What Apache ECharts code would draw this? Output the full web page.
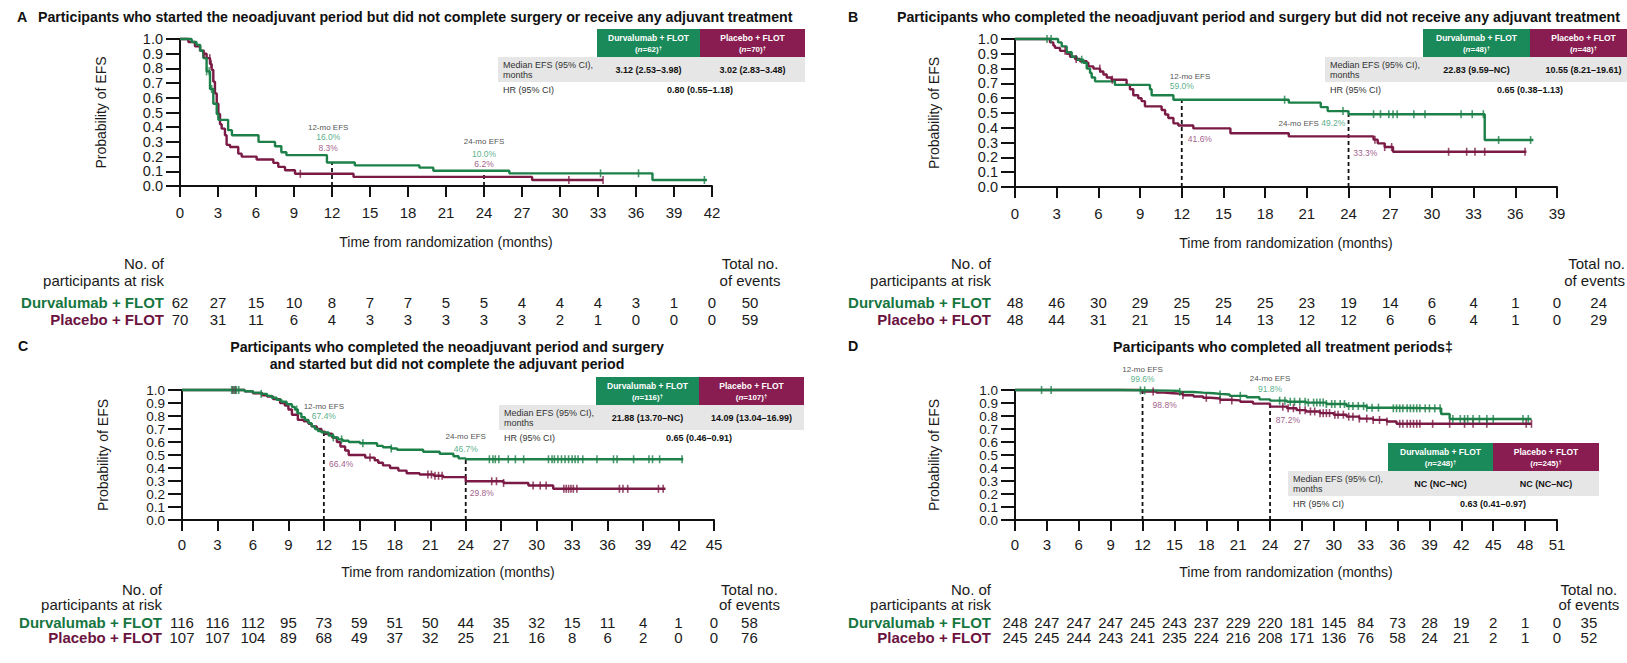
<!DOCTYPE html>
<html><head><meta charset="utf-8">
<script src="https://cdn.jsdelivr.net/npm/echarts@6/dist/echarts.min.js"></script>
<style>html,body{margin:0;padding:0;background:#fff}#c{width:1627px;height:663px}</style>
</head><body><div id="c"></div>
<script>
// ================= DATA =================
const xTickStep = 3;
const yTickLabels = ['0.0','0.1','0.2','0.3','0.4','0.5','0.6','0.7','0.8','0.9','1.0'];
const armNames = ['Durvalumab + FLOT', 'Placebo + FLOT'];

// ---- Panel A ----
const aTitle = 'Participants who started the neoadjuvant period but did not complete surgery or receive any adjuvant treatment';
const aXMax = 42;
const aDurvaKM = [[0,1],[0.92,0.98],[1.3,0.96],[1.6,0.92],[1.84,0.87],[2.1,0.78],[2.37,0.66],[2.63,0.56],[2.9,0.49],[3.03,0.45],[3.8,0.38],[4.1,0.345],[6.2,0.30],[7.5,0.27],[8.0,0.23],[8.4,0.21],[11.6,0.16],[13.8,0.14],[18.9,0.125],[20.0,0.104],[26.0,0.086],[37.3,0.041],[41.6,0.041]];
const aDurvaCens = [2.1,2.3,2.5,33.2,36.2,41.4];
const aPlacKM = [[0,1],[0.66,0.98],[1.18,0.95],[1.58,0.92],[1.84,0.9],[2.1,0.87],[2.37,0.83],[2.5,0.79],[2.63,0.71],[2.76,0.63],[2.9,0.56],[3.03,0.49],[3.16,0.42],[3.29,0.39],[3.55,0.345],[3.68,0.28],[3.95,0.265],[4.6,0.22],[4.87,0.2],[6.05,0.18],[7.37,0.157],[7.76,0.13],[8.29,0.107],[9.08,0.083],[13.7,0.062],[27.8,0.041],[33.4,0.041]];
const aPlacCens = [1.9,2.35,2.45,9.5,30.7,33.4];
const aDurvaRisk = [62,27,15,10,8,7,7,5,5,4,4,4,3,1,0];
const aPlacRisk  = [70,31,11,6,4,3,3,3,3,3,2,1,0,0,0];
const aTotals = [50,59];
const aN = [62,70];
const aMedian = ['3.12 (2.53–3.98)','3.02 (2.83–3.48)'];
const aHR = '0.80 (0.55–1.18)';
const aEFS12 = ['16.0%','8.3%'];
const aEFS24 = ['10.0%','6.2%'];
const aLand = [0.16, 0.10];

// ---- Panel B ----
const bTitle = 'Participants who completed the neoadjuvant period and surgery but did not receive any adjuvant treatment';
const bXMax = 39;
const bDurvaKM = [[0,1],[3.1,0.977],[3.36,0.95],[3.72,0.91],[4.08,0.88],[4.44,0.86],[4.92,0.84],[5.16,0.80],[5.4,0.77],[5.52,0.74],[5.76,0.714],[7.19,0.69],[9.71,0.66],[9.83,0.62],[11.4,0.59],[19.7,0.57],[22.0,0.54],[22.5,0.513],[24.0,0.492],[33.8,0.318],[37.3,0.318]];
const bDurvaCens = [2.3,2.6,4.8,19.4,23.6,25.8,26.3,26.9,27.2,27.5,28.7,29.5,32.1,32.9,33.7,34.8,37.1];
const bPlacKM = [[0,1],[2.52,0.977],[2.76,0.955],[2.88,0.94],[3.24,0.92],[3.72,0.9],[3.96,0.88],[4.32,0.865],[4.68,0.85],[5.16,0.84],[5.28,0.815],[5.64,0.80],[6.12,0.78],[6.36,0.76],[6.6,0.74],[6.95,0.725],[8.03,0.69],[8.27,0.66],[8.51,0.62],[8.87,0.6],[9.11,0.58],[9.35,0.545],[10.55,0.52],[10.8,0.49],[11.03,0.466],[11.4,0.43],[11.75,0.416],[12.83,0.396],[15.5,0.363],[19.7,0.342],[25.8,0.32],[26.1,0.295],[26.6,0.27],[27.2,0.238],[36.8,0.238]];
const bPlacCens = [3.6,4.4,6.1,7.0,25.9,26.6,27.1,31.2,32.5,33.1,33.8,36.7];
const bDurvaRisk = [48,46,30,29,25,25,25,23,19,14,6,4,1,0];
const bPlacRisk  = [48,44,31,21,15,14,13,12,12,6,6,4,1,0];
const bTotals = [24,29];
const bN = [48,48];
const bMedian = ['22.83 (9.59–NC)','10.55 (8.21–19.61)'];
const bHR = '0.65 (0.38–1.13)';
const bEFS12 = ['59.0%','41.6%'];
const bEFS24 = ['49.2%','33.3%'];
const bLand = [0.59, 0.492];

// ---- Panel C ----
const cTitle = 'Participants who completed the neoadjuvant period and surgery\nand started but did not complete the adjuvant period';
const cXMax = 45;
const cDurvaKM = [[0,1],[5.3,0.99],[6.0,0.98],[6.7,0.97],[7.2,0.955],[7.6,0.94],[8.0,0.925],[8.4,0.91],[8.85,0.89],[9.3,0.87],[9.55,0.85],[9.8,0.82],[10.1,0.79],[10.4,0.77],[10.7,0.745],[10.97,0.72],[11.25,0.70],[11.5,0.685],[11.8,0.674],[12.4,0.65],[12.8,0.635],[13.2,0.62],[13.6,0.61],[14.1,0.6],[15.05,0.59],[16.5,0.57],[17.0,0.56],[17.7,0.55],[18.2,0.54],[20.4,0.525],[21.8,0.51],[22.96,0.49],[23.4,0.474],[24.0,0.467],[42.4,0.467]];
const cDurvaCens = [4.2,4.4,4.6,4.8,6.7,9.7,12.8,13.5,15.3,17.7,26.0,26.3,26.5,26.8,27.6,28.2,28.9,31.0,31.3,31.5,31.8,32.1,32.4,32.7,33.0,33.25,33.5,33.9,35.1,36.5,36.8,38.2,39.5,39.8,40.4,42.3];
const cPlacKM = [[0,1],[5.3,0.99],[6.0,0.975],[6.8,0.96],[7.2,0.95],[7.7,0.93],[8.3,0.90],[8.7,0.88],[9.0,0.85],[9.3,0.81],[9.8,0.77],[10.3,0.76],[10.7,0.74],[10.97,0.72],[11.4,0.70],[11.8,0.68],[12.1,0.664],[12.7,0.635],[13.1,0.60],[13.4,0.565],[13.8,0.535],[14.1,0.50],[15.5,0.48],[16.3,0.46],[16.6,0.44],[17.0,0.42],[17.6,0.40],[18.3,0.38],[19.0,0.36],[20.1,0.35],[21.3,0.34],[22.1,0.33],[24.0,0.298],[27.2,0.285],[29.3,0.265],[31.4,0.24],[40.9,0.24]];
const cPlacCens = [4.3,4.5,15.9,20.8,21.1,21.4,21.7,22.0,26.2,26.6,27.2,29.7,30.3,30.8,32.3,32.5,32.7,32.9,33.1,33.4,37.0,37.3,37.7,40.3,40.7];
const cDurvaRisk = [116,116,112,95,73,59,51,50,44,35,32,15,11,4,1,0];
const cPlacRisk  = [107,107,104,89,68,49,37,32,25,21,16,8,6,2,0,0];
const cTotals = [58,76];
const cN = [116,107];
const cMedian = ['21.88 (13.70–NC)','14.09 (13.04–16.99)'];
const cHR = '0.65 (0.46–0.91)';
const cEFS12 = ['67.4%','66.4%'];
const cEFS24 = ['46.7%','29.8%'];
const cLand = [0.674, 0.467];

// ---- Panel D ----
const dTitle = 'Participants who completed all treatment periods‡';
const dXMax = 51;
const dDurvaKM = [[0,1],[9.9,0.997],[13.0,0.995],[14.6,0.992],[15.5,0.985],[16.8,0.98],[17.7,0.975],[18.7,0.97],[19.3,0.965],[20.2,0.955],[21.8,0.944],[23.0,0.928],[24.0,0.918],[25.6,0.91],[27.4,0.903],[29.3,0.892],[31.2,0.877],[33.1,0.864],[35.6,0.859],[40.1,0.815],[40.9,0.777],[48.6,0.777]];
const dDurvaCens = [2.5,3.4,11.8,12.2,15.5,19.3,21.2,24.9,25.4,25.9,26.3,26.8,27.3,27.6,28.1,28.4,28.7,29.0,29.3,29.8,30.1,30.6,31.0,31.4,31.8,32.3,32.8,33.1,33.6,34.2,35.6,35.9,36.2,36.5,36.9,37.2,37.5,37.8,38.1,38.6,39.0,39.5,40.0,41.2,41.9,42.3,42.6,43.1,43.7,44.4,45.0,47.8,48.3];
const dPlacKM = [[0,1],[11.9,0.988],[13.3,0.98],[14.0,0.975],[14.9,0.97],[15.8,0.96],[16.8,0.95],[17.7,0.94],[18.4,0.935],[19.3,0.925],[20.2,0.92],[21.2,0.91],[22.4,0.895],[24.0,0.872],[25.6,0.86],[26.5,0.845],[27.4,0.835],[28.7,0.822],[30.0,0.81],[31.2,0.795],[32.4,0.78],[33.7,0.77],[35.0,0.758],[35.9,0.74],[48.6,0.74]];
const dPlacCens = [13.0,15.8,18.0,19.3,20.4,25.2,25.7,26.2,26.8,27.3,27.8,28.2,28.7,29.0,29.3,29.6,30.1,30.4,30.9,31.4,31.8,32.4,33.1,33.7,34.3,35.0,36.2,36.5,36.9,37.2,37.5,37.8,38.1,39.3,40.9,42.3,43.1,44.4,48.1,48.6];
const dDurvaRisk = [248,247,247,247,245,243,237,229,220,181,145,84,73,28,19,2,1,0];
const dPlacRisk  = [245,245,244,243,241,235,224,216,208,171,136,76,58,24,21,2,1,0];
const dTotals = [35,52];
const dN = [248,245];
const dMedian = ['NC (NC–NC)','NC (NC–NC)'];
const dHR = '0.63 (0.41–0.97)';
const dEFS12 = ['99.6%','98.8%'];
const dEFS24 = ['91.8%','87.2%'];
const dLand = [1.0, 0.918];

// ================= STYLE / LAYOUT =================
const GREEN = '#1d8049', PURPLE = '#7a1a45';
const HGREEN = '#1a8a5a', HPURPLE = '#891c50';
const TGREEN = '#17763f', TPURPLE = '#6b1340';
const PGREEN = '#2c9a6c', PPURPLE = '#87306a';
const INK = '#1a1a1a';
const FONT = "'Liberation Sans', Arial, Helvetica, sans-serif";
const TFS = 15;      // table / axis text size
const TITLE_FS = 14.2;

const panels = [
  { letter:'A', title:aTitle, xMax:aXMax, dKM:aDurvaKM, dC:aDurvaCens, pKM:aPlacKM, pC:aPlacCens, dR:aDurvaRisk, pR:aPlacRisk, tot:aTotals, n:aN, med:aMedian, hr:aHR, e12:aEFS12, e24:aEFS24, land:aLand,
    L:{left:180, top:39, width:532, height:147, tableTop:302, tableH:17, hdrNo:263, hdrStep:17, labMargin:19, nameGap:49, yNameGap:72, labelRight:164,
       letterX:17, letterY:17, titleX:38, titleAlign:'left', titleY:17,
       leg:{grayLeft:498, g0:597, g1:700, p1:805, top:29},
       ann12:[{x:11.7,y:0.40,t:'12-mo EFS',c:INK},{x:11.7,y:0.333,t:0,c:PGREEN},{x:11.7,y:0.259,t:1,c:PPURPLE}],
       ann24:[{x:24,y:0.30,t:'24-mo EFS',c:INK},{x:24,y:0.218,t:0,c:PGREEN},{x:24,y:0.15,t:1,c:PPURPLE}] } },
  { letter:'B', title:bTitle, xMax:bXMax, dKM:bDurvaKM, dC:bDurvaCens, pKM:bPlacKM, pC:bPlacCens, dR:bDurvaRisk, pR:bPlacRisk, tot:bTotals, n:bN, med:bMedian, hr:bHR, e12:bEFS12, e24:bEFS24, land:bLand,
    L:{left:1015, top:39, width:542, height:148, tableTop:302, tableH:17, hdrNo:263, hdrStep:17, labMargin:19, nameGap:49, yNameGap:74, labelRight:991,
       letterX:848, letterY:17, titleX:897, titleAlign:'left', titleY:17,
       leg:{grayLeft:1325, g0:1423, g1:1530, p1:1637, top:29},
       ann12:[{x:12.6,y:0.75,t:'12-mo EFS',c:INK},{x:12.0,y:0.68,t:0,c:PGREEN},{x:12.4,y:0.324,t:1,c:PPURPLE,a:'left'}],
       ann24:[{x:23.8,y:0.43,t:'24-mo EFS {g|@}',c:INK,a:'right'},{x:24.3,y:0.23,t:1,c:PPURPLE,a:'left'}] } },
  { letter:'C', title:cTitle, xMax:cXMax, dKM:cDurvaKM, dC:cDurvaCens, pKM:cPlacKM, pC:cPlacCens, dR:cDurvaRisk, pR:cPlacRisk, tot:cTotals, n:cN, med:cMedian, hr:cHR, e12:cEFS12, e24:cEFS24, land:cLand,
    L:{left:182, top:390, width:532, height:130, tableTop:622, tableH:15, hdrNo:589, hdrStep:15, labMargin:17, nameGap:45, yNameGap:72, labelRight:162,
       letterX:18, letterY:346, titleX:447, titleAlign:'center', titleY:346,
       leg:{grayLeft:499, g0:596, g1:699, p1:804, top:377},
       ann12:[{x:12,y:0.87,t:'12-mo EFS',c:INK},{x:12,y:0.80,t:0,c:PGREEN},{x:12.4,y:0.43,t:1,c:PPURPLE,a:'left'}],
       ann24:[{x:24,y:0.64,t:'24-mo EFS',c:INK},{x:24,y:0.55,t:0,c:PGREEN},{x:24.3,y:0.21,t:1,c:PPURPLE,a:'left'}] } },
  { letter:'D', title:dTitle, xMax:dXMax, dKM:dDurvaKM, dC:dDurvaCens, pKM:dPlacKM, pC:dPlacCens, dR:dDurvaRisk, pR:dPlacRisk, tot:dTotals, n:dN, med:dMedian, hr:dHR, e12:dEFS12, e24:dEFS24, land:dLand,
    L:{left:1015, top:390, width:542, height:130, tableTop:622, tableH:15, hdrNo:589, hdrStep:15, labMargin:17, nameGap:45, yNameGap:74, labelRight:991,
       letterX:848, letterY:346, titleX:1283, titleAlign:'center', titleY:346,
       leg:{grayLeft:1288, g0:1388, g1:1493, p1:1599, top:443},
       ann12:[{x:12,y:1.16,t:'12-mo EFS',c:INK},{x:12,y:1.085,t:0,c:PGREEN},{x:12.9,y:0.885,t:1,c:PPURPLE,a:'left'}],
       ann24:[{x:24,y:1.09,t:'24-mo EFS',c:INK},{x:24,y:1.01,t:0,c:PGREEN},{x:24.5,y:0.77,t:1,c:PPURPLE,a:'left'}] } }
];

function survAt(km, t){ let s = km[0][1]; for (const p of km){ if (p[0] <= t) s = p[1]; else break; } return s; }

const grid = [], xAxis = [], yAxis = [], series = [], graphic = [];
const W = 1627;

panels.forEach((P, k) => {
  const L = P.L;
  const nInt = P.xMax / xTickStep;
  const tableW = L.width * (nInt + 1) / nInt;
  const gi = grid.length;
  grid.push({left:L.left, top:L.top, width:L.width, height:L.height, outerBoundsMode:'none', containLabel:false});
  const ti = grid.length;
  grid.push({left:L.left, top:L.tableTop, width:tableW, height:L.tableH, outerBoundsMode:'none', containLabel:false});
  const yFs = (L.height / 10) > 14 ? 14.5 : 13.5;

  const xMainIdx = xAxis.length;
  xAxis.push({gridIndex:gi, type:'value', min:0, max:P.xMax, interval:xTickStep,
    axisLine:{show:true, onZero:false, lineStyle:{color:'#111', width:2}},
    axisTick:{show:true, length:11, lineStyle:{color:'#111', width:2}},
    axisLabel:{fontFamily:FONT, fontSize:TFS, color:INK, margin:L.labMargin, showMinLabel:true, showMaxLabel:true, hideOverlap:false},
    splitLine:{show:false},
    name:'Time from randomization (months)', nameLocation:'middle', nameGap:L.nameGap,
    nameTextStyle:{fontFamily:FONT, fontSize:14, color:INK}});

  // main y axis: line, ticks, even tick labels
  const yMainIdx = yAxis.length;
  yAxis.push({gridIndex:gi, type:'value', min:0, max:1, interval:0.1,
    axisLine:{show:true, onZero:false, lineStyle:{color:'#111', width:2}},
    axisTick:{show:true, length:14, lineStyle:{color:'#111', width:2}},
    axisLabel:{fontFamily:FONT, fontSize:yFs, color:INK, margin:17, showMinLabel:true, showMaxLabel:true, hideOverlap:false,
      formatter:(v) => { const i = Math.round(v*10); return i % 2 === 0 ? yTickLabels[i] : ''; }},
    splitLine:{show:false},
    name:'Probability of EFS', nameLocation:'middle', nameGap:L.yNameGap, nameRotate:90,
    nameTextStyle:{fontFamily:FONT, fontSize:14, color:INK}});
  // companion y axis carrying the odd tick labels (same scale)
  yAxis.push({gridIndex:gi, type:'value', position:'left', offset:0, min:0, max:1, interval:0.1,
    axisLine:{show:false}, axisTick:{show:false}, splitLine:{show:false},
    axisLabel:{fontFamily:FONT, fontSize:yFs, color:INK, margin:17, showMinLabel:true, showMaxLabel:true, hideOverlap:false,
      formatter:(v) => { const i = Math.round(v*10); return i % 2 === 1 ? yTickLabels[i] : ''; }}});

  const riskAxis = (arr, tot, pos) => ({gridIndex:ti, type:'value', position:pos, min:0, max:P.xMax + xTickStep, interval:xTickStep,
    axisLine:{show:false}, axisTick:{show:false}, splitLine:{show:false},
    axisLabel:{fontFamily:FONT, fontSize:TFS, color:INK, margin:0, verticalAlign:'middle', showMinLabel:true, showMaxLabel:true, hideOverlap:false,
      formatter:(v) => { const i = Math.round(v / xTickStep); return i < arr.length ? String(arr[i]) : String(tot); }}});
  xAxis.push(riskAxis(P.dR, P.tot[0], 'top'));
  xAxis.push(riskAxis(P.pR, P.tot[1], 'bottom'));
  yAxis.push({gridIndex:ti, type:'value', show:false, min:0, max:1});

  [[P.pKM, P.pC, PURPLE], [P.dKM, P.dC, GREEN]].forEach(([km, cens, col]) => {
    series.push({type:'line', xAxisIndex:xMainIdx, yAxisIndex:yMainIdx, data:km, step:'end', showSymbol:false, symbol:'none',
      lineStyle:{color:col, width:2.4}, itemStyle:{color:col}, z:3, silent:true, clip:false});
    series.push({type:'scatter', xAxisIndex:xMainIdx, yAxisIndex:yMainIdx, data:cens.map(t => [t, survAt(km, t)]),
      symbol:'rect', symbolSize:[1.6, 8], itemStyle:{color:col}, z:4, silent:true, clip:false});
  });
  [[12, P.land[0]], [24, P.land[1]]].forEach(([m, v]) => {
    series.push({type:'line', xAxisIndex:xMainIdx, yAxisIndex:yMainIdx, data:[[m,0],[m,v]], showSymbol:false, symbol:'none',
      lineStyle:{color:'#111', width:1.8, type:[4,3]}, z:2, silent:true, clip:false});
  });
  const annItems = [];
  const pushAnn = (list, vals) => list.forEach(a => {
    const text = typeof a.t === 'number' ? vals[a.t] : a.t.replace('@', vals[0]);
    const pos = a.a === 'left' ? 'right' : (a.a === 'right' ? 'left' : 'inside');
    annItems.push({value:[a.x, a.y], label:{show:true, position:pos, distance:0, formatter:text, color:a.c,
      fontFamily:FONT, fontSize: a.c === INK ? 8 : 8.5,
      rich:{g:{color:PGREEN, fontFamily:FONT, fontSize:8.5}}}});
  });
  pushAnn(L.ann12, P.e12);
  pushAnn(L.ann24, P.e24);
  series.push({type:'scatter', xAxisIndex:xMainIdx, yAxisIndex:yMainIdx, data:annItems, symbolSize:1,
    itemStyle:{color:'rgba(0,0,0,0)'}, z:6, silent:true, clip:false});

  // ---- titles ----
  graphic.push({type:'text', x:L.letterX, y:L.letterY, style:{text:P.letter, font:`bold ${TITLE_FS}px ${FONT}`, fill:'#111', textAlign:'left', textVerticalAlign:'middle'}});
  if (L.titleAlign === 'left') {
    graphic.push({type:'text', x:L.titleX, y:L.titleY, style:{text:P.title, font:`bold ${TITLE_FS}px ${FONT}`, fill:'#111', textAlign:'left', textVerticalAlign:'middle'}});
  } else {
    graphic.push({type:'text', x:L.titleX, y:L.titleY - 8, style:{text:P.title, font:`bold ${TITLE_FS}px ${FONT}`, fill:'#111', textAlign:'center', textVerticalAlign:'top', lineHeight:17}});
  }
  // ---- at-risk table labels ----
  const rr = L.labelRight;
  graphic.push({type:'text', x:rr, y:L.hdrNo, style:{text:'No. of', font:`${TFS}px ${FONT}`, fill:INK, textAlign:'right', textVerticalAlign:'middle'}});
  graphic.push({type:'text', x:rr, y:L.hdrNo + L.hdrStep, style:{text:'participants at risk', font:`${TFS}px ${FONT}`, fill:INK, textAlign:'right', textVerticalAlign:'middle'}});
  graphic.push({type:'text', x:rr, y:L.tableTop, style:{text:armNames[0], font:`bold ${TFS}px ${FONT}`, fill:TGREEN, textAlign:'right', textVerticalAlign:'middle'}});
  graphic.push({type:'text', x:rr, y:L.tableTop + L.tableH, style:{text:armNames[1], font:`bold ${TFS}px ${FONT}`, fill:TPURPLE, textAlign:'right', textVerticalAlign:'middle'}});
  const totX = L.left + tableW;
  const totFits = totX + 34 < W;
  [['Total no.', 0], ['of events', L.hdrStep]].forEach(([t, dy]) => {
    graphic.push({type:'text', x: totFits ? totX : W - 2, y:L.hdrNo + dy,
      style:{text:t, font:`${TFS}px ${FONT}`, fill:INK, textAlign: totFits ? 'center' : 'right', textVerticalAlign:'middle'}});
  });

  // ---- legend table ----
  const G = L.leg, hH = 28, gH = 25;
  graphic.push({type:'rect', shape:{x:G.grayLeft, y:G.top + hH, width:G.p1 - G.grayLeft, height:gH}, style:{fill:'#e6e6e6'}});
  graphic.push({type:'rect', shape:{x:G.g0, y:G.top, width:G.g1 - G.g0, height:hH}, style:{fill:HGREEN}});
  graphic.push({type:'rect', shape:{x:G.g1, y:G.top, width:G.p1 - G.g1, height:hH}, style:{fill:HPURPLE}});
  const cG = (G.g0 + G.g1)/2, cP = (G.g1 + G.p1)/2;
  [[cG, 0], [cP, 1]].forEach(([cx, i]) => {
    graphic.push({type:'text', x:cx, y:G.top + 9, style:{text:armNames[i], font:`bold 8.5px ${FONT}`, fill:'#fff', textAlign:'center', textVerticalAlign:'middle'}});
    graphic.push({type:'text', x:cx, y:G.top + 20, style:{text:`({i|n}=${P.n[i]}){s|†}`, font:`bold 8px ${FONT}`, fill:'#fff', textAlign:'center', textVerticalAlign:'middle',
      rich:{i:{font:`italic bold 8px ${FONT}`, fill:'#fff'}, s:{font:`bold 6px ${FONT}`, fill:'#fff', verticalAlign:'top'}}}});
    graphic.push({type:'text', x:cx, y:G.top + hH + 13, style:{text:P.med[i], font:`bold 9px ${FONT}`, fill:'#111', textAlign:'center', textVerticalAlign:'middle'}});
  });
  graphic.push({type:'text', x:G.grayLeft + 5, y:G.top + hH + 3, style:{text:'Median EFS (95% CI),\nmonths', font:`9px ${FONT}`, fill:'#333', textAlign:'left', textVerticalAlign:'top', lineHeight:10}});
  graphic.push({type:'text', x:G.grayLeft + 5, y:G.top + hH + gH + 8, style:{text:'HR (95% CI)', font:`9px ${FONT}`, fill:'#333', textAlign:'left', textVerticalAlign:'middle'}});
  graphic.push({type:'text', x:G.g1, y:G.top + hH + gH + 8, style:{text:P.hr, font:`bold 9px ${FONT}`, fill:'#111', textAlign:'center', textVerticalAlign:'middle'}});
});

const chart = echarts.init(document.getElementById('c'), null, {renderer:'svg', width:1627, height:663});
chart.setOption({animation:false, backgroundColor:'#fff', grid, xAxis, yAxis, series, graphic});
</script></body></html>
